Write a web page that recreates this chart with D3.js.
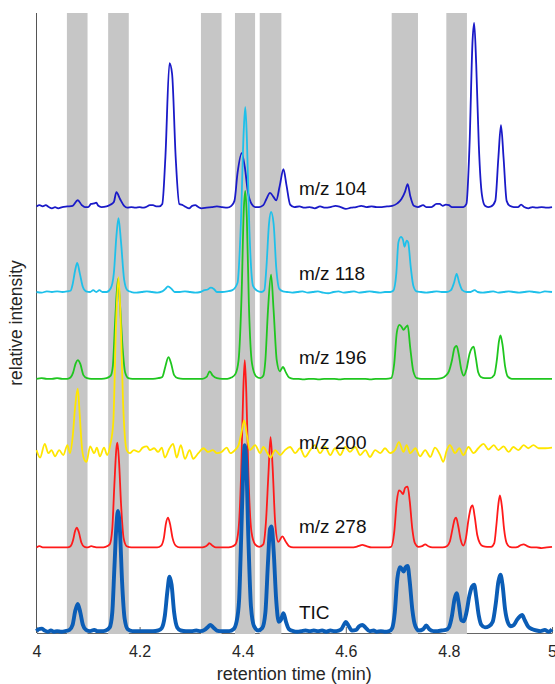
<!DOCTYPE html>
<html>
<head>
<meta charset="utf-8">
<script src="https://cdn.jsdelivr.net/npm/d3@7"></script>
<style>
  body { margin: 0; background: #fff; }
  text { font-family: "Liberation Sans", Arial, sans-serif; }
</style>
</head>
<body>
<svg width="555" height="684"></svg>
<script>
// retention time window (min) and tick labels
var xTicks = [4, 4.2, 4.4, 4.6, 4.8, 5];
var xTickLabels = ["4", "4.2", "4.4", "4.6", "4.8", "5"];

// grey highlight windows [start, end] in min
var bands = [[4.059, 4.099], [4.139, 4.179], [4.319, 4.359], [4.385, 4.424],
             [4.433, 4.475], [4.689, 4.740], [4.795, 4.835]];

var traceNames = ["m/z 104", "m/z 118", "m/z 196", "m/z 200", "m/z 278", "TIC"];
// vertical stacking offset of each trace (relative intensity units)
var traceOffsets = [68.7, 55.0, 41.0, 29.0, 13.8, 0.3];

// each trace: [time, relative intensity above its own baseline]
var mz104 = [[4.000,0.1],[4.006,0.3],[4.012,0.1],[4.018,0.3],[4.024,0.0],[4.030,-0.2],[4.036,0.0],[4.042,-0.2],[4.050,0.0],[4.060,0.1],
  [4.070,0.2],[4.080,1.1],[4.088,0.3],[4.094,0.0],[4.100,0.0],[4.106,0.5],[4.112,0.6],[4.116,0.7],[4.120,0.2],[4.126,0.0],[4.136,0.1],[4.144,0.4],
  [4.150,0.8],[4.155,2.4],[4.162,1.3],[4.170,0.2],[4.176,-0.1],[4.184,0.0],[4.192,-0.1],[4.200,0.0],[4.206,-0.1],[4.212,0.0],[4.220,0.3],[4.226,0.3],[4.232,0.1],
  [4.238,0.1],[4.244,0.5],[4.250,8],[4.258,23.2],[4.263,21.5],[4.270,8],[4.277,0.5],[4.284,0.3],[4.290,0.0],[4.296,-0.2],[4.302,0.2],[4.308,0.3],[4.314,0.0],
  [4.320,-0.2],[4.330,-0.1],[4.340,0.0],[4.350,0.1],[4.360,0.0],[4.370,-0.1],[4.378,0.2],
  [4.384,1.0],[4.390,5.5],[4.398,8.7],[4.404,6.5],[4.410,2.5],[4.418,0.4],[4.424,0.0],[4.432,0.0],[4.440,0.3],
  [4.446,1.3],[4.453,2.3],[4.460,1.6],[4.465,1.1],[4.472,3.5],[4.479,6.1],[4.485,3.5],[4.492,0.4],[4.500,0.0],
  [4.510,0.1],[4.520,-0.1],[4.530,0.0],[4.540,-0.2],[4.550,0.1],[4.560,-0.1],[4.570,0.0],[4.580,0.2],[4.590,0.0],[4.600,-0.3],[4.610,-0.1],[4.620,0.0],
  [4.630,0.2],[4.640,0.0],[4.650,0.1],[4.660,0.0],[4.670,0.0],[4.680,0.1],[4.690,0.2],[4.700,0.6],[4.708,1.3],
  [4.715,2.5],[4.720,3.7],[4.725,1.8],[4.732,0.2],[4.740,0.0],[4.750,0.3],[4.756,0.0],[4.766,0.0],[4.776,0.5],[4.782,0.5],[4.788,0.2],[4.794,0.4],[4.800,0.3],[4.806,0.0],
  [4.828,0.0],[4.834,0.5],[4.840,10],[4.846,27],[4.849,29.7],[4.853,23],[4.858,10],[4.864,2],[4.870,0.2],[4.876,0.0],[4.882,0.1],
  [4.890,1.0],[4.896,8],[4.901,13.2],[4.906,8],[4.912,1.0],[4.918,0.2],[4.926,0.0],[4.934,0.0],[4.940,0.4],[4.946,0.0],[4.954,-0.2],[4.962,0.0],
  [4.970,-0.1],[4.980,0.0],[4.990,-0.1],[5.000,0.0]];

var mz118 = [[4.000,0.0],[4.010,-0.1],[4.020,0.1],[4.030,0.0],[4.040,0.1],[4.050,0.0],[4.060,0.1],[4.066,0.2],
  [4.070,1.2],[4.075,3.5],[4.079,4.7],[4.084,3.0],[4.090,0.8],[4.096,0.1],[4.104,0.0],[4.110,0.3],[4.116,0.0],[4.122,0.3],[4.128,0.0],[4.136,0.0],[4.144,0.6],
  [4.150,3],[4.155,9],[4.159,11.9],[4.164,8],[4.170,2],[4.176,0.3],[4.184,0.0],[4.194,-0.1],[4.204,0.0],[4.214,0.1],[4.224,0.0],[4.234,-0.1],[4.244,0.1],
  [4.250,0.5],[4.255,0.9],[4.262,0.5],[4.268,0.0],[4.278,0.0],[4.288,0.1],[4.298,0.0],[4.308,-0.1],[4.318,0.0],[4.326,0.3],[4.332,0.4],
  [4.338,0.7],[4.344,0.5],[4.350,0.0],[4.360,0.0],[4.370,0.1],[4.380,0.3],
  [4.390,1.5],[4.396,10],[4.402,26],[4.405,29.8],[4.408,25],[4.413,10],[4.420,1.0],[4.428,0.2],[4.436,0.0],[4.442,0.3],
  [4.446,4],[4.451,11],[4.455,12.9],[4.460,11],[4.465,4],[4.471,0.5],[4.478,0.1],[4.486,0.0],
  [4.496,-0.1],[4.506,0.0],[4.516,0.1],[4.526,-0.1],[4.536,0.0],[4.546,0.1],[4.556,-0.1],[4.566,-0.2],[4.576,0.0],[4.586,0.1],[4.596,-0.1],[4.606,0.0],
  [4.616,0.1],[4.626,-0.1],[4.636,0.0],[4.646,0.1],[4.656,0.0],[4.666,-0.1],[4.676,0.0],[4.686,0.0],[4.692,0.2],
  [4.698,3],[4.702,8],[4.707,8.9],[4.711,8.4],[4.714,7.3],[4.718,8.3],[4.721,8.0],[4.726,4],[4.731,1],[4.737,0.1],[4.746,0.0],[4.756,-0.1],[4.766,0.0],
  [4.776,0.1],[4.786,0.0],[4.796,0.0],[4.804,0.3],
  [4.810,1.5],[4.815,2.9],[4.820,1.5],[4.826,0.3],[4.834,0.0],[4.842,0.0],[4.850,0.3],[4.856,0.0],[4.866,-0.1],[4.876,0.0],[4.886,0.1],[4.896,-0.1],
  [4.906,0.0],[4.916,0.1],[4.926,0.0],[4.936,-0.1],[4.946,0.0],[4.956,0.1],[4.966,0.0],[4.976,-0.1],[4.986,0.1],[5.000,0.0]];

var mz196 = [[4.000,0.0],[4.010,0.1],[4.020,0.0],[4.030,0.0],[4.040,0.1],[4.050,0.0],[4.060,0.0],[4.066,0.2],
  [4.071,1.0],[4.076,2.5],[4.080,3.0],[4.085,2.4],[4.091,0.6],[4.098,0.1],[4.106,0.0],[4.116,0.0],[4.126,0.0],[4.136,0.1],[4.144,0.5],
  [4.148,2],[4.153,10],[4.158,16.1],[4.162,12],[4.167,5],[4.172,1],[4.178,0.1],[4.186,0.0],[4.196,0.0],[4.206,0.0],[4.216,0.0],[4.226,0.0],[4.236,0.1],[4.244,0.3],
  [4.250,2.0],[4.256,3.5],[4.261,2.5],[4.267,0.6],[4.274,0.1],[4.284,0.0],[4.294,0.0],[4.304,0.0],[4.314,0.0],[4.322,0.0],[4.330,0.3],
  [4.336,1.2],[4.342,0.5],[4.350,0.1],[4.360,0.0],[4.370,0.0],[4.378,0.2],[4.386,0.8],
  [4.392,3],[4.398,14],[4.402,27],[4.405,30.3],[4.408,26],[4.412,12],[4.418,2.5],[4.426,0.4],[4.434,0.1],[4.440,0.5],
  [4.444,3],[4.449,11],[4.455,16.8],[4.460,11],[4.466,3],[4.472,1.2],[4.478,1.9],[4.484,1.0],[4.490,0.2],[4.498,0.0],
  [4.508,0.0],[4.518,-0.1],[4.528,0.0],[4.538,0.0],[4.548,-0.1],[4.558,0.0],[4.568,0.0],[4.578,0.0],[4.588,-0.1],[4.598,0.0],[4.608,0.0],[4.618,0.0],
  [4.628,0.0],[4.638,0.0],[4.648,-0.1],[4.658,0.0],[4.668,0.0],[4.678,0.0],[4.688,0.1],
  [4.694,2.5],[4.699,7.5],[4.704,8.7],[4.708,8.4],[4.712,7.9],[4.716,8.3],[4.720,8.6],[4.725,5],[4.731,1.2],[4.738,0.1],[4.746,0.0],[4.756,0.0],[4.766,0.0],
  [4.776,0.0],[4.786,0.1],[4.794,0.5],[4.800,1.2],[4.806,3],[4.811,5],[4.815,5.3],[4.819,4],[4.824,1.5],[4.829,0.5],[4.834,1.5],[4.840,4],[4.845,5.0],
  [4.848,5.2],[4.852,3.5],[4.857,1.0],[4.862,0.3],[4.870,0.1],[4.880,0.1],[4.888,0.6],[4.893,3],[4.897,6],[4.900,7.0],[4.904,5.5],[4.909,2],[4.914,0.4],
  [4.922,0.0],[4.932,0.0],[4.942,0.0],[4.952,0.0],[4.962,0.0],[4.972,0.0],[4.982,0.0],[4.992,0.0],[5.000,0.0]];

var mz200 = [[4.000,0.5],[4.007,-0.7],[4.016,1.5],[4.023,0.0],[4.029,0.5],[4.036,-0.5],[4.044,0.5],[4.052,-0.3],[4.060,1.3],[4.065,0.0],
  [4.070,2.5],[4.075,7.5],[4.080,10.4],[4.084,6],[4.088,1],[4.091,-0.6],[4.097,-1.4],[4.104,1.1],[4.112,0.0],[4.117,0.9],[4.123,-0.5],[4.131,0.9],
  [4.137,-0.3],[4.143,1.3],[4.149,5],[4.154,20],[4.159,28.4],[4.163,22],[4.168,8],[4.175,0.5],[4.181,0.0],[4.189,0.5],[4.198,0.2],[4.206,0.9],
  [4.214,1.1],[4.220,0.5],[4.228,0.8],[4.236,0.2],[4.243,0.9],[4.249,-0.7],[4.258,0.8],[4.265,1.5],[4.272,-0.7],[4.280,1.3],[4.288,-0.9],[4.297,0.5],
  [4.304,-0.9],[4.314,0.0],[4.324,0.8],[4.333,0.2],[4.342,0.5],[4.350,0.0],[4.359,0.2],[4.369,0.9],[4.376,0.0],[4.385,0.5],[4.392,1.3],
  [4.398,3.5],[4.403,5.3],[4.408,3.0],[4.414,0.5],[4.424,1.3],[4.434,0.0],[4.440,1.0],[4.448,0.0],[4.454,-0.7],[4.463,0.5],[4.473,-0.3],[4.482,0.5],
  [4.492,1.0],[4.502,0.0],[4.511,0.8],[4.521,-0.6],[4.531,0.5],[4.540,1.3],[4.550,0.0],[4.560,1.0],[4.570,-0.3],[4.579,0.8],[4.589,-0.3],[4.599,1.0],
  [4.608,0.2],[4.618,1.0],[4.628,-0.3],[4.638,0.5],[4.647,-0.6],[4.657,0.5],[4.667,0.0],[4.676,0.8],[4.686,0.0],[4.696,0.6],[4.703,1.8],[4.712,0.2],
  [4.718,1.3],[4.725,0.0],[4.735,0.8],[4.744,-0.5],[4.754,0.5],[4.764,-0.6],[4.773,0.9],[4.783,-0.3],[4.789,-1.4],[4.796,0.5],[4.802,1.3],[4.812,0.0],
  [4.820,0.8],[4.828,-0.3],[4.838,1.0],[4.848,0.0],[4.857,0.8],[4.867,1.5],[4.877,0.6],[4.887,1.3],[4.896,0.5],[4.906,1.1],[4.916,0.2],[4.925,1.0],
  [4.935,0.5],[4.945,1.3],[4.954,0.8],[4.964,1.3],[4.974,0.8],[4.987,0.8],[5.000,0.9]];

var mz278 = [[4.000,0.0],[4.006,0.2],[4.012,0.0],[4.020,0.0],[4.030,0.0],[4.040,0.0],[4.050,0.0],[4.060,0.0],[4.066,0.2],
  [4.071,1.2],[4.075,2.7],[4.078,3.2],[4.082,2.5],[4.087,0.8],[4.093,0.1],[4.100,0.0],[4.106,0.2],[4.112,0.1],[4.118,0.0],[4.126,0.0],[4.134,0.1],[4.142,0.5],
  [4.147,3],[4.151,10],[4.155,16],[4.157,16.9],[4.160,14],[4.164,7],[4.169,1.5],[4.175,0.2],[4.184,0.0],[4.194,0.0],[4.204,0.0],[4.214,0.0],[4.224,0.0],
  [4.234,0.0],[4.242,0.3],[4.247,1.5],[4.251,3.8],[4.255,4.8],[4.259,3.8],[4.264,1.5],[4.270,0.3],[4.278,0.0],[4.288,0.0],[4.298,0.0],[4.308,0.0],
  [4.318,0.0],[4.326,0.1],[4.333,0.5],[4.335,0.7],[4.341,0.3],[4.348,0.0],[4.358,0.0],[4.368,0.0],[4.378,0.1],[4.386,0.5],
  [4.392,3],[4.397,12],[4.401,25],[4.404,30.2],[4.407,25],[4.411,12],[4.417,2.5],[4.424,0.5],[4.432,0.1],[4.440,0.5],
  [4.445,4],[4.450,12],[4.454,17.8],[4.458,13],[4.463,4],[4.469,0.9],[4.477,1.8],[4.483,1.0],[4.490,0.2],[4.498,0.0],[4.510,0.0],[4.520,0.0],
  [4.530,0.0],[4.540,0.0],[4.550,0.0],[4.560,0.0],[4.570,0.0],[4.580,0.0],[4.590,0.0],[4.600,0.0],[4.610,0.0],[4.620,0.1],[4.627,0.3],[4.632,0.4],
  [4.640,0.2],[4.650,0.0],[4.660,0.0],[4.670,0.0],[4.680,0.0],[4.688,0.1],
  [4.694,2.5],[4.699,7.5],[4.703,9.2],[4.707,9.0],[4.711,8.6],[4.715,9.6],[4.720,9.8],[4.724,7.5],[4.729,3],[4.734,0.7],[4.741,0.1],[4.748,0.2],
  [4.754,0.5],[4.760,0.2],[4.768,0.0],[4.778,0.0],[4.788,0.0],[4.796,0.2],
  [4.802,1.0],[4.807,3],[4.811,4.5],[4.814,4.8],[4.818,3.5],[4.823,1.2],[4.828,0.3],[4.833,1.5],[4.838,4.5],[4.843,6.5],[4.846,6.8],[4.850,5],
  [4.855,2],[4.860,0.7],[4.866,0.2],[4.874,0.1],[4.882,0.1],[4.888,0.7],[4.892,3.5],[4.896,7],[4.899,8.4],[4.903,6.5],[4.907,3],[4.912,0.7],
  [4.918,0.1],[4.926,0.0],[4.934,0.1],[4.940,0.4],[4.945,0.5],[4.952,0.2],[4.960,0.0],[4.970,0.0],[4.980,-0.1],[4.990,0.0],[5.000,0.1]];

var tic = [[4.000,0.0],[4.004,0.3],[4.010,0.4],[4.016,0.1],[4.022,-0.1],[4.028,0.1],[4.034,-0.1],[4.040,0.0],[4.048,-0.1],[4.056,0.0],[4.064,0.2],
  [4.070,1.0],[4.075,3.2],[4.080,4.4],[4.085,3.0],[4.090,1.0],[4.096,0.2],[4.104,0.0],[4.112,0.2],[4.118,0.0],[4.126,0.0],[4.134,0.1],[4.142,0.6],
  [4.147,3],[4.151,10],[4.155,17],[4.158,19.4],[4.162,16],[4.166,8],[4.171,2],[4.177,0.3],[4.186,0.0],[4.196,0.0],[4.206,0.0],[4.216,0.0],[4.226,0.0],
  [4.236,0.1],[4.243,0.5],[4.249,2.5],[4.254,6.5],[4.258,8.8],[4.262,7.5],[4.267,3],[4.273,0.6],[4.280,0.1],[4.290,0.0],[4.300,0.0],[4.310,0.1],
  [4.318,0.0],[4.326,0.2],[4.333,0.7],[4.337,1.0],[4.343,0.6],[4.350,0.1],[4.358,0.0],[4.366,0.0],[4.374,0.0],[4.382,0.3],[4.388,1.5],
  [4.393,5],[4.397,15],[4.401,26],[4.404,30],[4.407,27],[4.411,15],[4.416,4],[4.422,0.8],[4.430,0.1],[4.438,0.5],
  [4.444,3],[4.449,11],[4.453,16.5],[4.456,16.9],[4.460,13],[4.465,5],[4.470,1.5],[4.474,1.8],[4.479,2.9],[4.484,1.5],[4.490,0.3],[4.498,0.0],
  [4.506,-0.1],[4.514,0.0],[4.522,0.1],[4.530,0.0],[4.538,0.1],[4.546,0.0],[4.554,0.1],[4.562,-0.1],[4.570,0.1],[4.578,0.0],[4.586,0.1],[4.592,0.4],
  [4.596,1.0],[4.600,1.5],[4.605,0.9],[4.612,0.1],[4.620,0.2],[4.626,0.8],[4.632,1.0],[4.638,0.6],[4.646,0.0],[4.654,0.1],[4.660,-0.1],[4.668,0.0],
  [4.676,-0.1],[4.684,0.0],[4.690,0.5],
  [4.695,3],[4.700,8.5],[4.705,10.3],[4.709,10.0],[4.712,9.6],[4.716,10.3],[4.720,10.5],[4.724,8],[4.729,3.5],[4.735,0.8],[4.742,0.1],[4.750,0.3],
  [4.756,0.9],[4.762,0.3],[4.770,0.0],[4.778,0.0],[4.786,0.1],[4.794,0.2],[4.800,0.6],
  [4.806,2.5],[4.811,5.2],[4.815,6.1],[4.819,4.5],[4.824,1.8],[4.829,1.6],[4.834,3],[4.840,5.8],[4.845,7.2],[4.849,7.5],[4.853,5.5],[4.858,2.5],
  [4.863,1.0],[4.870,0.6],[4.878,0.8],[4.885,1.5],[4.891,4.5],[4.896,8],[4.900,9.1],[4.904,7.5],[4.909,3.5],[4.914,1.5],[4.920,0.8],[4.926,1.0],
  [4.932,1.8],[4.938,2.4],[4.942,2.6],[4.947,1.8],[4.954,0.7],[4.962,0.3],[4.970,0.1],[4.978,0.0],[4.986,0.2],[4.993,-0.1],[5.000,0.3]];

var traceData = [mz104, mz118, mz196, mz200, mz278, tic];

// styling
var traceColors = ["#1a1ac8", "#1ec0ea", "#1fc61f", "#ffe600", "#ff1a1a", "#0b5db6"];
var traceWidths = [1.8, 1.8, 1.8, 1.8, 1.8, 3.9];
var labelDy = [-12, -12, -15, -4, -14, -12];
var drawOrder = [0, 1, 2, 4, 3, 5];

drawChart();

function drawChart() {
    var svg = d3.select("svg"),
        plotLeft = 36.5, plotRight = 552, plotTop = 13, plotBottom = 633;

    var x = d3.scaleLinear().domain([4, 5]).range([plotLeft, plotRight]);
    var y = d3.scaleLinear().domain([0, 100]).range([plotBottom, plotTop]);

    // axes first, the grey windows sit on top of the axis line
    var xAxis = svg.append("g")
        .attr("transform", "translate(0," + plotBottom + ")")
        .call(d3.axisBottom(x)
            .tickValues(xTicks)
            .tickFormat(function(d, i) { return xTickLabels[i]; })
            .tickSizeInner(-6)
            .tickSizeOuter(0)
            .tickPadding(13));
    xAxis.select(".domain").attr("stroke", "#666");
    xAxis.selectAll(".tick line").attr("stroke", "#666");
    xAxis.selectAll(".tick text")
        .attr("fill", "#262626")
        .style("font-size", "16px")
        .style("font-family", "'Liberation Sans', Arial, sans-serif");

    svg.append("line")
        .attr("x1", plotLeft).attr("x2", plotLeft)
        .attr("y1", plotTop).attr("y2", plotBottom)
        .attr("stroke", "#555")
        .attr("stroke-width", 1);

    svg.append("g")
        .selectAll("rect")
        .data(bands)
        .enter().append("rect")
        .attr("x", function(d) { return x(d[0]); })
        .attr("y", plotTop)
        .attr("width", function(d) { return x(d[1]) - x(d[0]); })
        .attr("height", plotBottom - plotTop + 1)
        .attr("fill", "#c6c6c6");

    // traces
    drawOrder.forEach(function(i) {
        var line = d3.line()
            .x(function(d) { return x(d[0]); })
            .y(function(d) { return y(traceOffsets[i] + d[1]); })
            .curve(d3.curveMonotoneX);
        svg.append("path")
            .datum(traceData[i])
            .attr("fill", "none")
            .attr("stroke", traceColors[i])
            .attr("stroke-width", traceWidths[i])
            .attr("stroke-linejoin", "round")
            .attr("d", line);
    });

    // trace labels
    svg.append("g")
        .selectAll("text")
        .data(traceNames)
        .enter().append("text")
        .attr("x", x(4.509))
        .attr("y", function(d, i) { return y(traceOffsets[i]) + labelDy[i]; })
        .attr("fill", "#111")
        .style("font-size", "19px")
        .text(function(d) { return d; });

    // axis titles
    svg.append("text")
        .attr("x", (plotLeft + plotRight) / 2)
        .attr("y", 680)
        .attr("text-anchor", "middle")
        .attr("fill", "#262626")
        .style("font-size", "18px")
        .text("retention time (min)");

    svg.append("text")
        .attr("transform", "translate(22,323) rotate(-90)")
        .attr("text-anchor", "middle")
        .attr("fill", "#262626")
        .style("font-size", "17.5px")
        .text("relative intensity");
}
</script>
</body>
</html>
